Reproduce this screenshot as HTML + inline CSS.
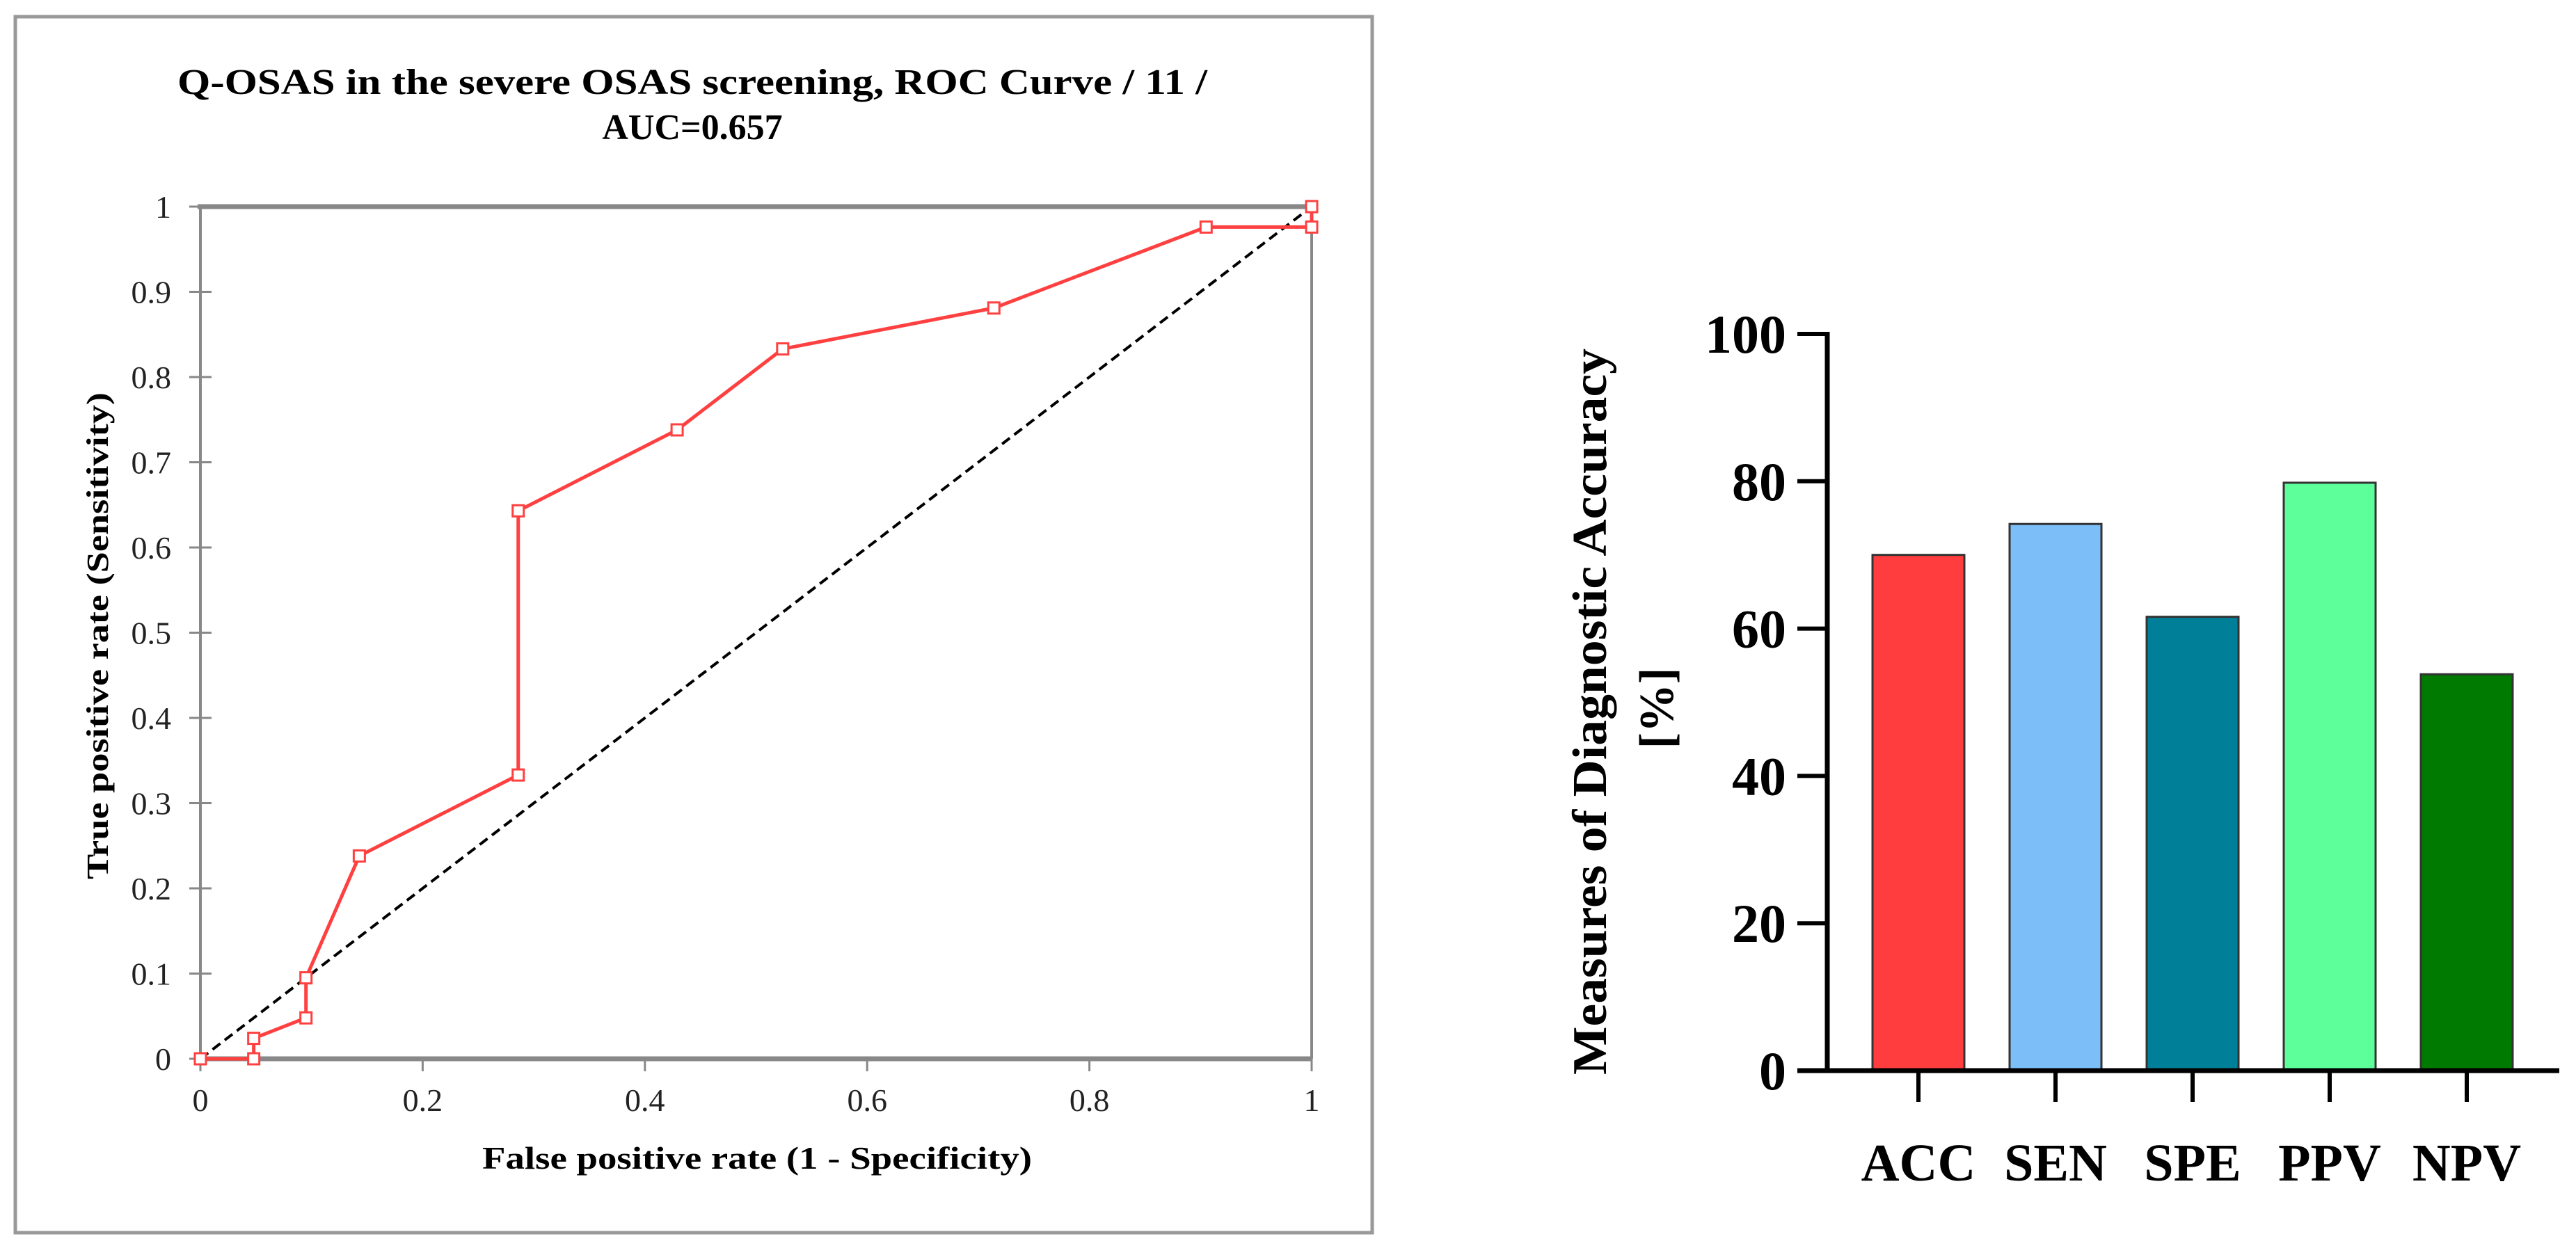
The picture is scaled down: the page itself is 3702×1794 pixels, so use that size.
<!DOCTYPE html>
<html><head><meta charset="utf-8"><style>
html,body{margin:0;padding:0;background:#fff;}
svg{display:block;font-family:"Liberation Serif",serif;}
</style></head><body>
<svg id="chart" width="3702" height="1794" viewBox="0 0 3702 1794" xmlns="http://www.w3.org/2000/svg">
<rect x="22" y="24" width="1950" height="1748" fill="#fff" stroke="#999" stroke-width="5"/>
<g>
<text x="995" y="135" text-anchor="middle" font-size="52" font-weight="bold" textLength="1480" lengthAdjust="spacingAndGlyphs">Q-OSAS in the severe OSAS screening, ROC Curve / 11 /</text>
<text x="995" y="200" text-anchor="middle" font-size="52" font-weight="bold">AUC=0.657</text>
</g>
<g id="roc"></g>
<text transform="translate(155,914) rotate(-90)" text-anchor="middle" font-size="44" font-weight="bold" textLength="700" lengthAdjust="spacingAndGlyphs">True positive rate (Sensitivity)</text>
<text x="1088" y="1680" text-anchor="middle" font-size="46" font-weight="bold" textLength="790" lengthAdjust="spacingAndGlyphs">False positive rate (1 - Specificity)</text>
<g id="bars"></g>
<text transform="translate(2308,1023) rotate(-90)" text-anchor="middle" font-size="70" font-weight="bold" textLength="1044" lengthAdjust="spacingAndGlyphs">Measures of Diagnostic Accuracy</text>
<text transform="translate(2404,1018) rotate(-90)" text-anchor="middle" font-size="70" font-weight="bold">[%]</text>
</svg>
<script>
const rocFpr=[0,0.048,0.048,0.095,0.095,0.143,0.286,0.286,0.429,0.524,0.714,0.905,1,1];
const rocTpr=[0,0,0.024,0.048,0.095,0.238,0.333,0.643,0.738,0.833,0.881,0.976,0.976,1];
const rocXTicks=[0,0.2,0.4,0.6,0.8,1];
const rocXTickLabels=["0","0.2","0.4","0.6","0.8","1"];
const rocYTicks=[0,0.1,0.2,0.3,0.4,0.5,0.6,0.7,0.8,0.9,1];
const rocYTickLabels=["0","0.1","0.2","0.3","0.4","0.5","0.6","0.7","0.8","0.9","1"];
const barCategories=["ACC","SEN","SPE","PPV","NPV"];
const barValues=[70,74.2,61.6,79.8,53.8];
const barColors=["#ff3d3f","#7bbef8","#007f99","#5cff9a","#007a00"];
const barYTicks=[0,20,40,60,80,100];
const barYTickLabels=["0","20","40","60","80","100"];

const NS="http://www.w3.org/2000/svg";
function mk(parent,tag,attrs,text){const e=document.createElementNS(NS,tag);for(const k in attrs)e.setAttribute(k,attrs[k]);if(text!==undefined)e.textContent=text;parent.appendChild(e);return e;}

// ROC
const rx0=288,rx1=1885,ry0=1522,ry1=297;
const sx=v=>rx0+(rx1-rx0)*v, sy=v=>ry0-(ry0-ry1)*v;
const roc=document.getElementById('roc');
let el=mk(roc,'line',{x1:sx(0),y1:sy(0),x2:sx(0),y2:sy(1),stroke:'#888','stroke-width':4});


el=mk(roc,'line',{x1:sx(1),y1:sy(0),x2:sx(1),y2:sy(1),stroke:'#888','stroke-width':4});


el=mk(roc,'line',{x1:sx(0)-4,y1:sy(1),x2:sx(1)+2,y2:sy(1),stroke:'#888','stroke-width':7});


el=mk(roc,'line',{x1:sx(0),y1:sy(0),x2:sx(1),y2:sy(0),stroke:'#888','stroke-width':7});


rocXTicks.forEach((t,i)=>{
  let tk=mk(roc,'line',{x1:sx(t),y1:sy(0),x2:sx(t),y2:sy(0)+18,stroke:'#888','stroke-width':3});
  
  
  let lb=mk(roc,'text',{x:sx(t),y:1597,'text-anchor':'middle','font-size':46,fill:'#222'},rocXTickLabels[i]);
  
  
});
rocYTicks.forEach((t,i)=>{
  let tk=mk(roc,'line',{x1:sx(0)-16,y1:sy(t),x2:sx(0)+16,y2:sy(t),stroke:'#888','stroke-width':3});
  
  
  let lb=mk(roc,'text',{x:246,y:sy(t)+16,'text-anchor':'end','font-size':46,fill:'#222'},rocYTickLabels[i]);
  
  
});
el=mk(roc,'line',{x1:sx(0),y1:sy(0),x2:sx(1),y2:sy(1),stroke:'#000','stroke-width':4,'stroke-dasharray':'14,8'});


el=mk(roc,'polyline',{points:rocFpr.map((v,i)=>sx(v)+','+sy(rocTpr[i])).join(' '),fill:'none',stroke:'#ff4040','stroke-width':5});


rocFpr.forEach((v,i)=>{
  let m=mk(roc,'rect',{x:sx(v)-8,y:sy(rocTpr[i])-8,width:16,height:16,fill:'#fff',stroke:'#ff4040','stroke-width':3});
  
  
});

// Bars
const bx0=2626,bx1=3678,by0=1539,by1=480;
const byS=v=>by0-(by0-by1)*v/100;
const band=197, firstCenter=2757, bw=132;
const bars=document.getElementById('bars');
barCategories.forEach((c,i)=>{
  const cx=firstCenter+band*i;
  let r=mk(bars,'rect',{x:cx-bw/2,y:byS(barValues[i]),width:bw,height:by0-byS(barValues[i]),fill:barColors[i],stroke:'#333','stroke-width':3});
  
  
  let tk=mk(bars,'line',{x1:cx,y1:by0,x2:cx,y2:1584,stroke:'#000','stroke-width':6});
  
  
  let lb=mk(bars,'text',{x:cx,y:1697,'text-anchor':'middle','font-size':76,'font-weight':'bold'},c);
  
  
});
barYTicks.forEach((t,i)=>{
  let tk=mk(bars,'line',{x1:2583,y1:byS(t),x2:bx0,y2:byS(t),stroke:'#000','stroke-width':6});
  
  
  let lb=mk(bars,'text',{x:2567,y:byS(t)+27,'text-anchor':'end','font-size':78,'font-weight':'bold'},barYTickLabels[i]);
  
  
});
el=mk(bars,'line',{x1:bx0,y1:by1-3,x2:bx0,y2:by0+3,stroke:'#000','stroke-width':7});


el=mk(bars,'line',{x1:2583,y1:by0,x2:bx1,y2:by0,stroke:'#000','stroke-width':7});


</script>
</body></html>
